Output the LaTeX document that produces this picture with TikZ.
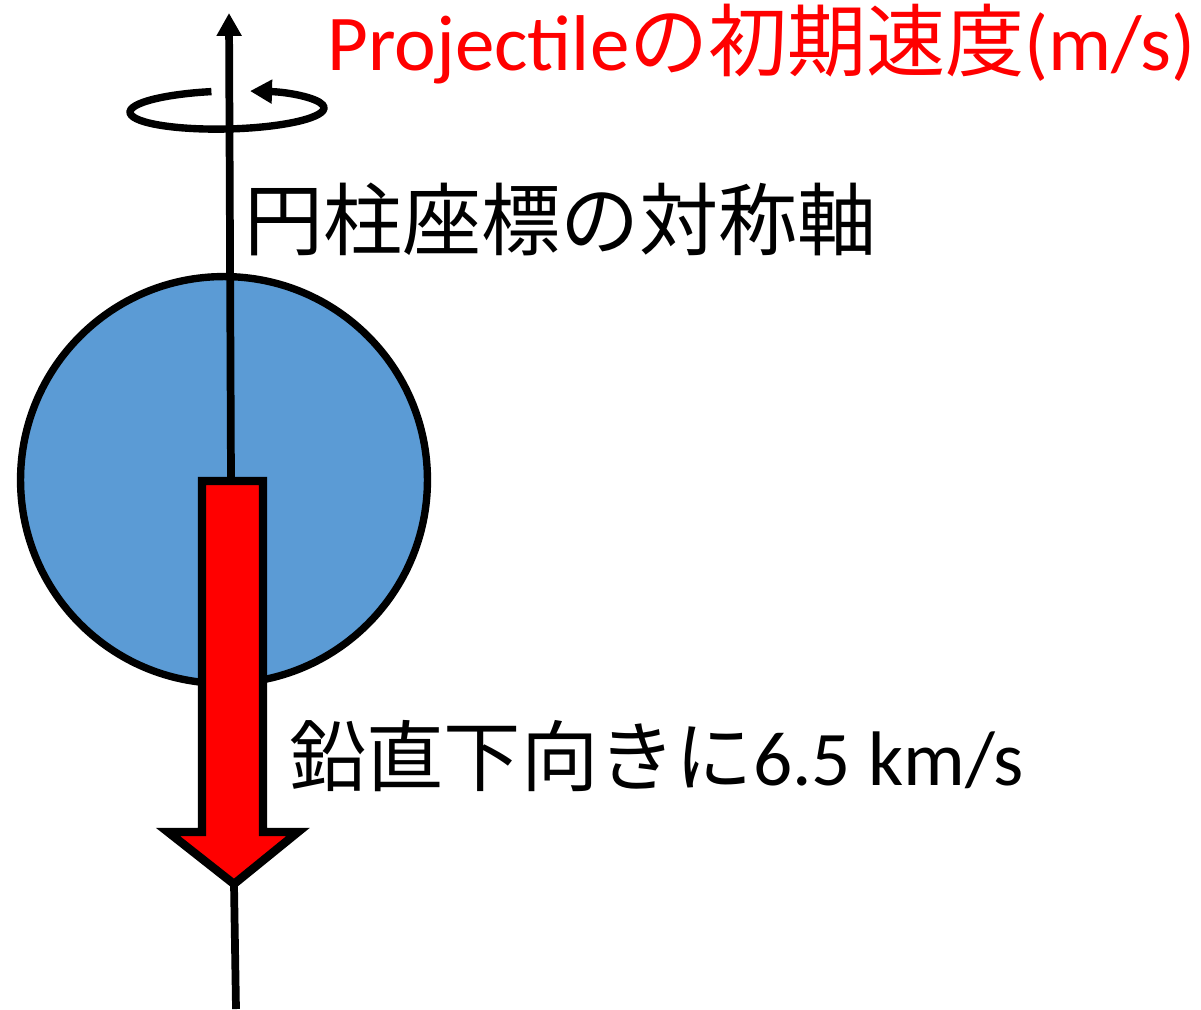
\documentclass[tikz,border=0pt]{standalone}
\usepackage{fontspec}
\setmainfont{Carlito}
\newfontfamily\cjk{Noto Sans CJK JP}
\usepackage{tikz}
\usetikzlibrary{arrows.meta}
\definecolor{ballblue}{HTML}{5B9BD5}
\definecolor{velred}{HTML}{FF0000}
\tikzstyle{bigtext}  = [inner sep=0pt, anchor=base west, font=\fontsize{44}{52}\selectfont]
\tikzstyle{axisline} = [line width=4.4pt]
\tikzstyle{spinline} = [line width=4.2pt]
\tikzstyle{ball}     = [circle, draw=black, line width=4.2pt, fill=ballblue, minimum size=8.14cm, inner sep=0pt]
\tikzstyle{velarrow} = [draw=black, line width=4.8pt, fill=velred]

\begin{document}
\begin{tikzpicture}[x=0.02cm, y=-0.02cm]
    \useasboundingbox (0,0) rectangle (1201,1009);

    \node (sphere) [ball] at (224,480) {};

    % symmetry axis
    \coordinate (axtop) at (229,13);
    \coordinate (axmid) at (231,481);
    \coordinate (axtip) at (234,884);
    \coordinate (axbot) at (236,1009);
    \draw [axisline, {Triangle[length=13pt,width=13.5pt]}-] (axtop) -- (axmid);
    \draw [axisline] (axtip) -- (axbot);

    % initial velocity
    \draw [velarrow] (202,481) -- (263,481) -- (263,832) -- (298,832) -- (axtip)
                     -- (168,832) -- (202,832) -- cycle;

    % rotation about the axis
    \coordinate (spin) at (227,110);
    \draw [spinline, rotate around={1.3:(spin)}, -{Triangle[length=12.5pt,width=13pt]}]
        (spin) ++(99:1.94cm and 0.38cm) arc[start angle=99, end angle=436, x radius=1.94cm, y radius=0.38cm];

    \node (title)      [bigtext, font=\fontsize{45}{52}\selectfont, text=velred] at (327,70) {Projectile{\cjk の初期速度}(m/s)};
    \node (axislabel)  [bigtext, font=\fontsize{45}{52}\selectfont]              at (244,249) {\cjk 円柱座標の対称軸};
    \node (speedlabel) [bigtext]                                                  at (289,785) {{\cjk 鉛直下向きに}6.5 km/s};

\end{tikzpicture}
\end{document}
